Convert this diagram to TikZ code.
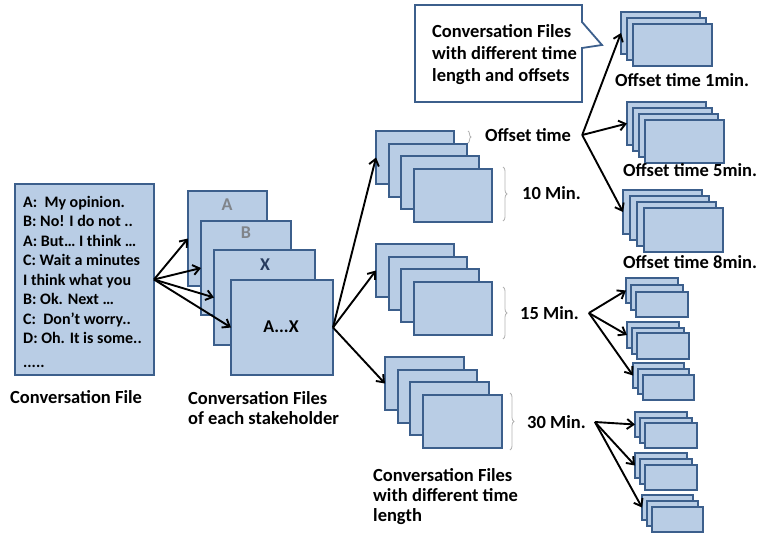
\documentclass[tikz,border=0pt]{standalone}
\usepackage{fontspec}
\setmainfont{Carlito}
\usetikzlibrary{arrows.meta,decorations.pathreplacing,calc}

\definecolor{filefill}{RGB}{185,205,229}
\definecolor{fileline}{RGB}{60,95,140}
\definecolor{letgray}{RGB}{128,132,138}
\definecolor{letblue}{RGB}{40,60,95}

\tikzset{
  filebox/.style={draw=fileline, fill=filefill, line width=2pt, rectangle,
                  inner sep=0pt, outer sep=0pt, anchor=north west},
  flow/.style={draw=black, line width=1.9pt,
               -{Straight Barb[length=6.5pt,width=10pt,line width=1.9pt]}},
  lbl/.style={font=\fontsize{18.5}{20}\selectfont\bfseries, inner sep=0pt, align=left},
  minlbl/.style={lbl, anchor=west},
  letter/.style={font=\fontsize{18}{20}\selectfont\bfseries, inner sep=0pt},
  grayb/.style={draw=gray!60, line width=0.8pt, decorate,
                decoration={brace, amplitude=4pt}},
}

% a stack of file boxes: name, count, x, y, dx, dy, width, height
\newcommand\fstack[8]{%
  \foreach \k in {1,...,#2}{%
    \node[filebox, minimum width=#7pt, minimum height=#8pt]
      (#1-\k) at ({#3+(\k-1)*#5},{#4+(\k-1)*#6}) {};
  }}

\begin{document}
\begin{tikzpicture}[x=1pt,y=-1pt]
\useasboundingbox (0,0) rectangle (758,533);

% the conversation file
\node[filebox, minimum width=139pt, minimum height=191pt] (conv) at (15,184) {};
\node[anchor=north west, inner sep=0pt, align=left,
      font=\fontsize{16}{19.5}\selectfont\bfseries] (convtext) at (23,196)
  {A:\ \ My opinion.\\
   B: No! I do not ..\\
   A: But… I think …\\
   C: Wait a minutes\\
   I think what you\\
   B: Ok. Next …\\
   C:\ \ Don’t worry..\\
   D: Oh. It is some..\\[4pt]
   .....};
\node[lbl, anchor=base west] (convlbl) at (10,403) {Conversation File};

% files of each stakeholder
\node[filebox, minimum width=79pt,  minimum height=95pt] (skA)  at (188,191) {};
\node[filebox, minimum width=90pt,  minimum height=94pt] (skB)  at (201,221) {};
\node[filebox, minimum width=101pt, minimum height=95pt] (skX)  at (214,250) {};
\node[filebox, minimum width=102pt, minimum height=95pt] (skAX) at (231,280) {};
\node[letter, text=letgray] (labA) at (227,205) {A};
\node[letter, text=letgray] (labB) at (246,233) {B};
\node[letter, text=letblue] (labX) at (265,265) {X};
\node[letter, text=black] (labAX) at (281,327) {A...X};
\node[lbl, anchor=north west] (sklbl) at (188,391) {Conversation Files\\of each stakeholder};

\foreach \t in {skA,skB,skX,skAX} \draw[flow] (conv.east) -- (\t.west);

% files cut to different time lengths
\fstack{tA}{4}{376}{131}{12.6}{12.6}{78}{53}
\fstack{tB}{4}{376}{244}{12.6}{12.6}{78}{53}
\fstack{tC}{4}{385}{357}{12.6}{12.6}{79}{53}
\node[lbl, anchor=north west] (tlbl) at (373,468) {Conversation Files\\with different time\\length};

\foreach \t in {tA,tB,tC} \draw[flow] (skAX.east) -- (\t-1.west);

\draw[grayb, decoration={amplitude=3pt}] (468,131) -- (468,143);
\draw[grayb] (503,167) -- (503,221);
\draw[grayb] (503,287) -- (503,339);
\draw[grayb] (510,393) -- (510,450);

\node[minlbl] (offlbl) at (485,135) {Offset time};
\node[minlbl] (m10) at (522,193) {10 Min.};
\node[minlbl] (m15) at (520,313) {15 Min.};
\node[minlbl] (m30) at (527,422) {30 Min.};

% files with different offsets
\fstack{oA}{3}{621}{12}{6}{6}{79}{42}
\fstack{oB}{4}{627}{102}{6}{6}{79}{43}
\fstack{oC}{4}{623}{190}{7}{6}{79}{44}
\node[minlbl] (o1) at (615,80)  {Offset time 1min.};
\node[minlbl] (o5) at (623,170) {Offset time 5min.};
\node[minlbl] (o8) at (623,262) {Offset time 8min.};

\coordinate (offsrc) at ($(offlbl.east)+(11,0)$);
\foreach \t in {oA,oB,oC} \draw[flow] (offsrc) -- (\t-1.west);

\fstack{sA}{3}{626}{278}{5}{7}{52}{25}
\fstack{sB}{3}{627}{322}{5}{5.5}{52}{26}
\fstack{sC}{3}{633}{363}{5}{6}{51}{25}
\fstack{sD}{3}{635}{412}{5}{5.5}{52}{25}
\fstack{sE}{3}{635}{453}{5}{6}{52}{25}
\fstack{sF}{3}{642}{495}{5}{6}{51}{25}

\coordinate (src15) at ($(m15.east)+(10,0)$);
\coordinate (src30) at ($(m30.east)+(9,0)$);
\foreach \t in {sA,sB,sC} \draw[flow] (src15) -- (\t-1.west);
\foreach \t in {sD,sE,sF} \draw[flow] (src30) -- (\t-1.west);

% callout
\draw[fill=white, draw=fileline, line width=1.8pt, line join=miter]
  (415,5) -- (582,5) -- (582,22) -- (602,45) -- (582,48) -- (582,102) -- (415,102) -- cycle;
\node[lbl, anchor=north west, font=\fontsize{18.5}{22}\selectfont\bfseries] (calltext) at (432,24)
  {Conversation Files\\with different time\\length and offsets};
\end{tikzpicture}
\end{document}
